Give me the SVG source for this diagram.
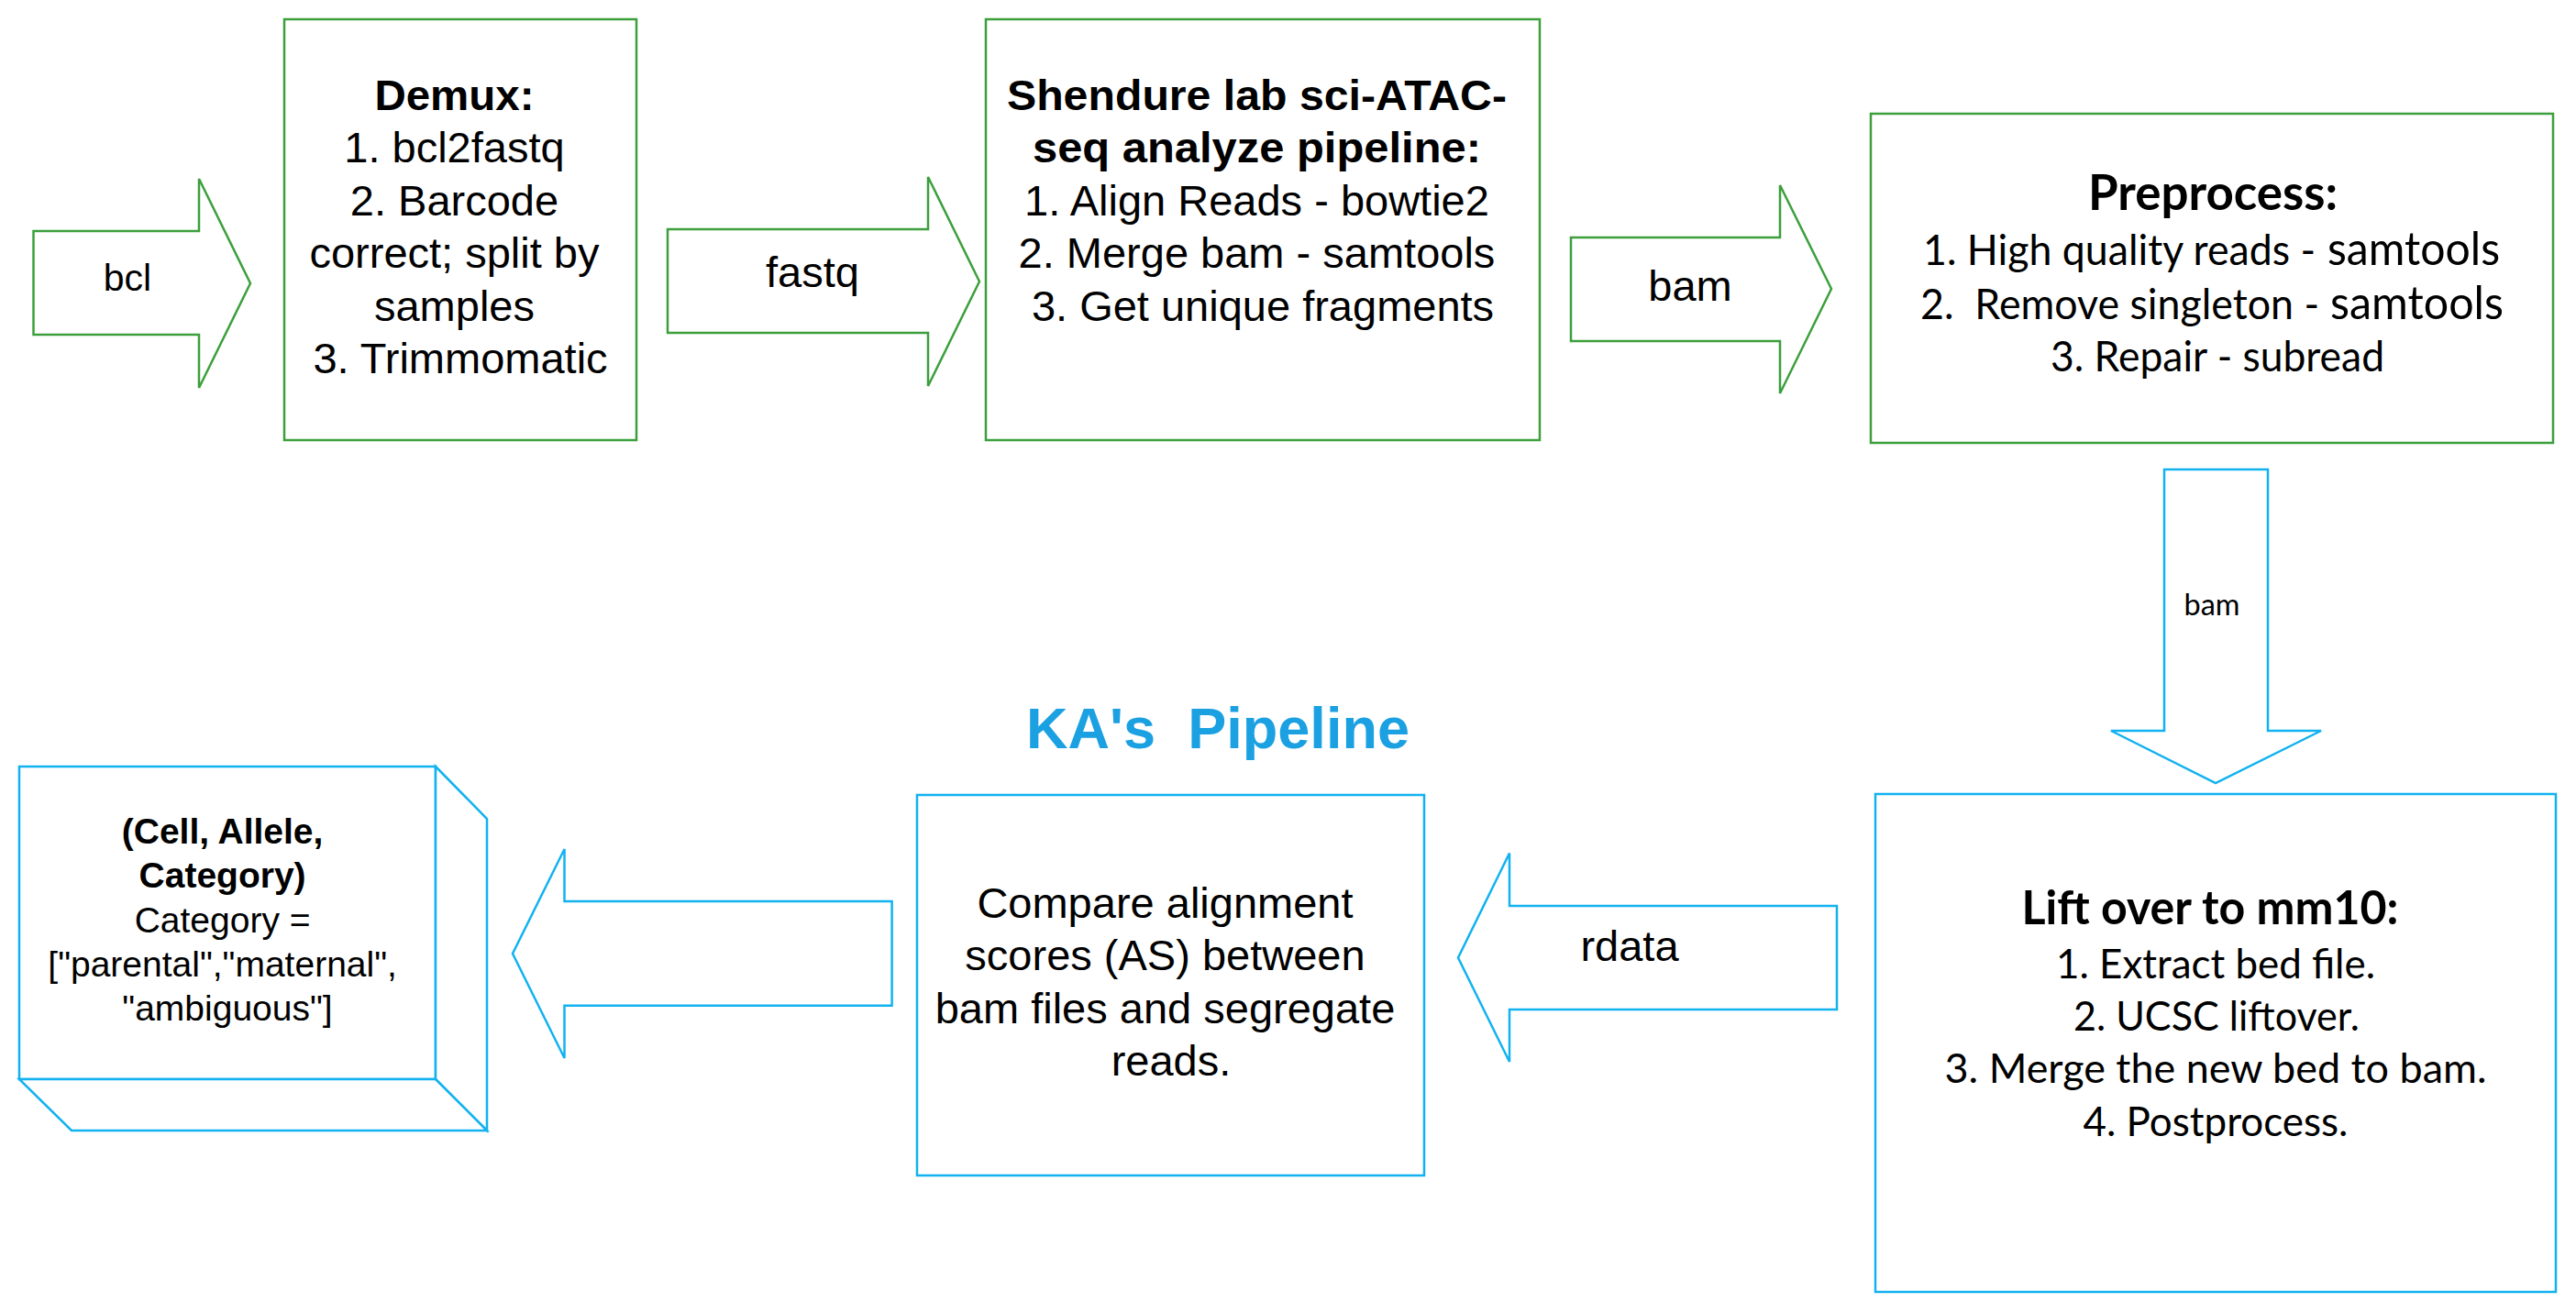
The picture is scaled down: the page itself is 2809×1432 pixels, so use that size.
<svg xmlns="http://www.w3.org/2000/svg" width="2809" height="1432" viewBox="0 0 2809 1432">
<style>
.g{fill:#fff;stroke:#3C9F3C;stroke-width:2.5}
.b{fill:#fff;stroke:#12B2F0;stroke-width:2.5}
.a{font-family:"Liberation Sans",Arial,sans-serif;fill:#000;text-anchor:middle}
.c{font-family:Lato,"Open Sans",sans-serif;fill:#000}
.bold{font-weight:bold}
.pre{white-space:pre}
</style>
<rect width="2809" height="1432" fill="#fff"/>
<g id="connectors">
  <g id="arrow-bcl">
    <path class="g" d="M36.5,252 H217 V195 L273,309 L217,423 V365 H36.5 Z"/>
    <text class="a" x="139" y="317" font-size="41">bcl</text>
  </g>
  <g id="arrow-fastq">
    <path class="g" d="M728,250 H1012 V193 L1068,307 L1012,421 V363 H728 Z"/>
    <text class="a" x="886" y="313" font-size="47">fastq</text>
  </g>
  <g id="arrow-bam-top">
    <path class="g" d="M1713,259 H1941 V202 L1997,315 L1941,429 V372 H1713 Z"/>
    <text class="a" x="1843" y="328" font-size="47">bam</text>
  </g>
  <g id="arrow-bam-down">
    <path class="b" d="M2360,512 H2473 V797 H2531 L2416,854 L2302,797 H2360 Z"/>
    <text class="c" x="2412" y="671" font-size="32" text-anchor="middle" textLength="61" lengthAdjust="spacingAndGlyphs">bam</text>
  </g>
  <g id="arrow-rdata">
    <path class="b" d="M2003,988 V1101 H1646 V1158 L1590,1044.5 L1646,930.5 V988 Z"/>
    <text class="a" x="1777" y="1048" font-size="47">rdata</text>
  </g>
  <g id="arrow-result">
    <path class="b" d="M972.6,983 V1096.7 H615.5 V1154 L559,1040 L615.5,926 V983 Z"/>
  </g>
</g>
<g id="node-demux">
  <rect class="g" x="310" y="21" width="384" height="459"/>
  <text class="a" font-size="47">
    <tspan x="502" y="120" class="bold" textLength="174" lengthAdjust="spacingAndGlyphs">Demux:</tspan>
    <tspan x="502" y="177.4">1. bcl2fastq</tspan>
    <tspan x="502" y="234.8">2. Barcode</tspan>
    <tspan x="502" y="292.2">correct; split by</tspan>
    <tspan x="502" y="349.6">samples</tspan>
    <tspan x="502" y="407">3. Trimmomatic</tspan>
  </text>
</g>
<g id="node-shendure">
  <rect class="g" x="1075" y="21" width="604" height="459"/>
  <text class="a" font-size="47">
    <tspan x="1377" y="120" class="bold" textLength="545" lengthAdjust="spacingAndGlyphs">Shendure lab sci-ATAC-</tspan>
    <tspan x="1377" y="177.4" class="bold" textLength="489" lengthAdjust="spacingAndGlyphs">seq analyze pipeline:</tspan>
    <tspan x="1377" y="234.8">1. Align Reads - bowtie2</tspan>
    <tspan x="1377" y="292.2">2. Merge bam - samtools</tspan>
    <tspan x="1377" y="349.6">3. Get unique fragments</tspan>
  </text>
</g>
<g id="node-preprocess">
  <rect class="g" x="2040" y="124" width="744" height="359"/>
  <text class="c bold" x="2413" y="229" font-size="54" text-anchor="middle" textLength="272" lengthAdjust="spacingAndGlyphs">Preprocess:</text>
  <text class="c" x="2097" y="289" font-size="46" textLength="428" lengthAdjust="spacingAndGlyphs">1. High quality reads -</text>
  <text class="c" x="2538" y="289" font-size="50" textLength="188" lengthAdjust="spacingAndGlyphs">samtools</text>
  <text class="c pre" x="2094" y="348" font-size="46" textLength="435" lengthAdjust="spacingAndGlyphs">2.  Remove singleton -</text>
  <text class="c" x="2541" y="348" font-size="50" textLength="189" lengthAdjust="spacingAndGlyphs">samtools</text>
  <text class="c" x="2418" y="405" font-size="46" text-anchor="middle" textLength="364" lengthAdjust="spacingAndGlyphs">3. Repair - subread</text>
</g>
<g id="node-liftover">
  <rect class="b" x="2045" y="866" width="742" height="543"/>
  <text class="c bold" x="2410" y="1008" font-size="52" text-anchor="middle" textLength="411" lengthAdjust="spacingAndGlyphs">Lift over to mm10:</text>
  <text class="c" x="2416" y="1067" font-size="44" text-anchor="middle" textLength="348" lengthAdjust="spacingAndGlyphs">1. Extract bed file.</text>
  <text class="c" x="2417" y="1124" font-size="44" text-anchor="middle" textLength="312" lengthAdjust="spacingAndGlyphs">2. UCSC liftover.</text>
  <text class="c" x="2416" y="1181" font-size="44" text-anchor="middle" textLength="591" lengthAdjust="spacingAndGlyphs">3. Merge the new bed to bam.</text>
  <text class="c" x="2416" y="1239" font-size="44" text-anchor="middle" textLength="289" lengthAdjust="spacingAndGlyphs">4. Postprocess.</text>
</g>
<g id="node-compare">
  <rect class="b" x="1000" y="867" width="553" height="415"/>
  <text class="a" font-size="47">
    <tspan x="1277" y="1001">Compare alignment</tspan>
    <tspan x="1277" y="1058.4">scores (AS) between</tspan>
    <tspan x="1277" y="1115.8">bam files and segregate</tspan>
    <tspan x="1277" y="1173.2">reads.</tspan>
  </text>
</g>
<g id="title">
  <text class="a bold pre" x="1328" y="816" font-size="63" style="fill:#1BA1E2" textLength="418" lengthAdjust="spacingAndGlyphs">KA's  Pipeline</text>
</g>
<g id="node-result">
  <rect class="b" x="21" y="836" width="454" height="341"/>
  <path class="b" d="M475,836 L531,893 V1233 L475,1177 Z"/>
  <path class="b" d="M21,1177 H475 L531,1233 H78 Z"/>
  <text class="a" font-size="39">
    <tspan x="248" y="920" class="bold">(Cell, Allele,</tspan>
    <tspan x="248" y="968.3" class="bold">Category)</tspan>
    <tspan x="248" y="1016.6">Category =</tspan>
    <tspan x="248" y="1064.9">["parental","maternal",</tspan>
    <tspan x="248" y="1113.2">"ambiguous"]</tspan>
  </text>
</g>
</svg>
